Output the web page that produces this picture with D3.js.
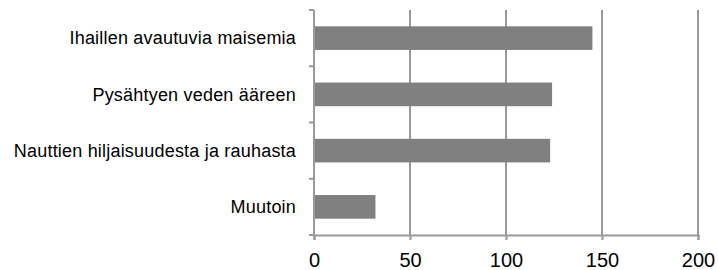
<!DOCTYPE html>
<html><head><meta charset="utf-8">
<script src="https://cdn.jsdelivr.net/npm/d3@7"></script>
<style>body{margin:0;background:#fff}svg{display:block}text{font-family:"Liberation Sans",Arial,sans-serif}</style>
</head><body>
<script>
const categories = ["Ihaillen avautuvia maisemia","Pysähtyen veden ääreen","Nauttien hiljaisuudesta ja rauhasta","Muutoin"];
const values = [145, 124, 123, 32];
const xTicks = [0, 50, 100, 150, 200];

const W = 718, H = 270;
const m = {left: 314, right: 20, top: 10, bottom: 35};
const svg = d3.select("body").append("svg").attr("width", W).attr("height", H);
const x = d3.scaleLinear().domain([0, 200]).range([m.left, 698]);
const y = d3.scaleBand().domain(categories).range([m.top, H - m.bottom]).paddingInner(0.58).paddingOuter(0.29);
const gray = "#999";

// gridlines
svg.append("g").selectAll("line").data(xTicks.slice(1)).join("line")
  .attr("x1", d => x(d)).attr("x2", d => x(d)).attr("y1", m.top).attr("y2", H - m.bottom)
  .attr("stroke", gray).attr("stroke-width", 2);

// bars
svg.append("g").selectAll("rect").data(values).join("rect")
  .attr("x", x(0)).attr("y", (d, i) => y(categories[i]))
  .attr("width", d => x(d) - x(0)).attr("height", y.bandwidth())
  .attr("fill", "#808080");

// x axis
const xa = svg.append("g").attr("transform", `translate(0,${H - m.bottom})`)
  .call(d3.axisBottom(x).tickValues(xTicks).tickSize(5).tickPadding(13));
xa.select(".domain").attr("stroke", gray).attr("stroke-width", 2);
xa.selectAll(".tick line").attr("stroke", gray).attr("stroke-width", 2);
xa.selectAll("text").attr("font-size", 20).attr("fill", "#000").attr("font-family", "Liberation Sans, Arial, sans-serif");

// y axis
const yPos = d3.scaleLinear().domain([0, categories.length]).range([m.top, H - m.bottom]);
const ya = svg.append("g").attr("transform", `translate(${x(0)},0)`);
ya.append("line").attr("x1", 0).attr("x2", 0).attr("y1", m.top).attr("y2", H - m.bottom).attr("stroke", gray).attr("stroke-width", 2);
ya.selectAll("line.tk").data(d3.range(categories.length + 1)).join("line").attr("class", "tk")
  .attr("x1", -5).attr("x2", 0).attr("y1", d => yPos(d)).attr("y2", d => yPos(d)).attr("stroke", gray).attr("stroke-width", 2);
ya.selectAll("text").data(categories).join("text")
  .attr("x", -18).attr("y", d => y(d) + y.bandwidth() / 2).attr("dy", "0.35em")
  .attr("text-anchor", "end").attr("font-size", 18).attr("letter-spacing", 0.2).attr("fill", "#000").text(d => d);
</script>
</body></html>
